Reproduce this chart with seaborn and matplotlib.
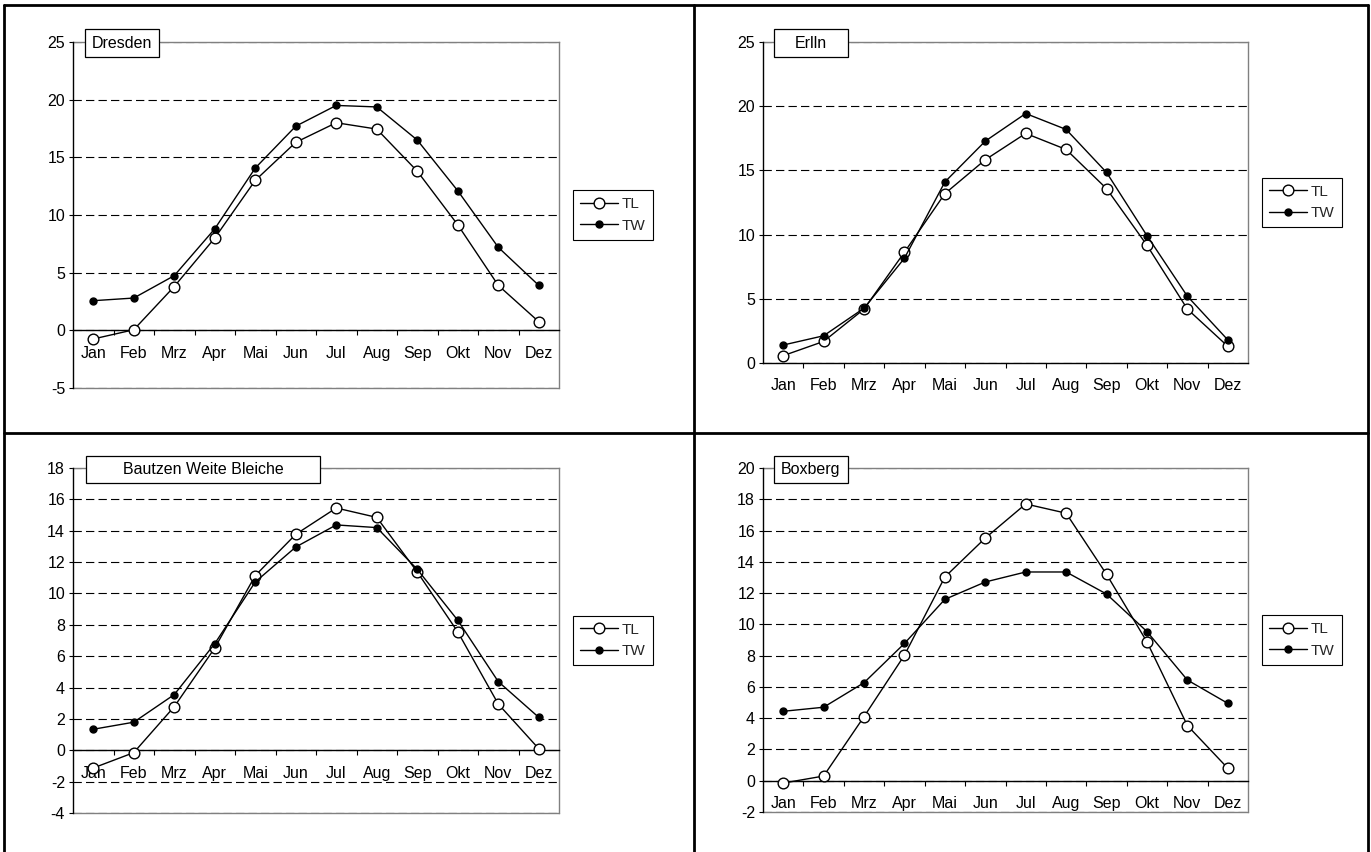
import numpy as np
import matplotlib
matplotlib.use('Agg')
import matplotlib.pyplot as plt
import seaborn as sns
from matplotlib.lines import Line2D
from matplotlib.patches import Rectangle
from matplotlib.ticker import FixedLocator

months = ['Jan', 'Feb', 'Mrz', 'Apr', 'Mai', 'Jun', 'Jul', 'Aug', 'Sep', 'Okt', 'Nov', 'Dez']

dresden_tl = [-0.75, 0.05, 3.8, 8.0, 13.0, 16.3, 18.0, 17.45, 13.8, 9.15, 3.9, 0.75]
dresden_tw = [2.57, 2.8, 4.74, 8.8, 14.07, 17.7, 19.5, 19.37, 16.5, 12.1, 7.2, 3.9]

erlln_tl = [0.57, 1.68, 4.2, 8.63, 13.19, 15.83, 17.88, 16.63, 13.58, 9.17, 4.2, 1.3]
erlln_tw = [1.4, 2.12, 4.27, 8.16, 14.1, 17.28, 19.43, 18.19, 14.84, 9.92, 5.2, 1.8]

bautzen_tl = [-1.13, -0.15, 2.78, 6.52, 11.14, 13.77, 15.45, 14.85, 11.37, 7.55, 2.95, 0.1]
bautzen_tw = [1.34, 1.79, 3.55, 6.8, 10.73, 12.96, 14.37, 14.2, 11.54, 8.29, 4.38, 2.1]

boxberg_tl = [-0.15, 0.3, 4.1, 8.03, 13.03, 15.52, 17.7, 17.11, 13.2, 8.88, 3.53, 0.8]
boxberg_tw = [4.44, 4.7, 6.27, 8.78, 11.6, 12.71, 13.35, 13.35, 11.94, 9.54, 6.44, 4.95]

series_labels = ['TL', 'TW']
station_names = ['Dresden', 'Erlln', 'Bautzen Weite Bleiche', 'Boxberg']
y_ranges = [(-5, 25, 5), (0, 25, 5), (-4, 18, 2), (-2, 20, 2)]

sns.set_theme(style='white')
plt.rcParams['font.family'] = ['Liberation Sans', 'DejaVu Sans']
plt.rcParams['lines.scale_dashes'] = False
plt.rcParams['axes.unicode_minus'] = False

W, H = 1371, 852
fig = plt.figure(figsize=(W / 100, H / 100), dpi=100)


def fx(x):
    return x / W


def fy(y):
    return 1 - y / H


# panel layout in pixels: (left, top, right, bottom) of the plot area, and title box
layouts = [
    dict(plot=(73, 42, 559, 388), title=(85, 29, 159, 57)),
    dict(plot=(763, 42, 1248, 363), title=(774, 29, 848, 57)),
    dict(plot=(73, 468, 559, 813), title=(86, 456, 320, 483)),
    dict(plot=(763, 468, 1248, 812), title=(774, 456, 848, 483)),
]
data = [(dresden_tl, dresden_tw), (erlln_tl, erlln_tw),
        (bautzen_tl, bautzen_tw), (boxberg_tl, boxberg_tw)]

FS = 11.5
for name, (tl, tw), (y0, y1, step), lay in zip(station_names, data, y_ranges, layouts):
    l, t, r, b = lay['plot']
    ax = fig.add_axes([fx(l), fy(b), fx(r - l), (b - t) / H])
    xs = np.arange(len(months))
    sns.lineplot(x=xs, y=tl, ax=ax, sort=False, color='black', lw=1,
                 marker='o', markersize=7.7, markerfacecolor='white',
                 markeredgecolor='black', markeredgewidth=1, label=series_labels[0],
                 zorder=5)
    sns.lineplot(x=xs, y=tw, ax=ax, sort=False, color='black', lw=1,
                 marker='o', markersize=5, markerfacecolor='black',
                 markeredgecolor='black', markeredgewidth=1, label=series_labels[1],
                 zorder=6)
    ax.set_xlim(-0.5, 11.5)
    ax.set_ylim(y0, y1)
    ax.set_yticks(np.arange(y0, y1 + 0.01, step))
    ax.set_xticks(xs)
    ax.set_xticklabels(months)
    ax.xaxis.set_minor_locator(FixedLocator(np.arange(0.5, 11.0, 1.0)))
    ax.set_xlabel('')
    ax.set_ylabel('')
    ax.grid(False)
    ax.yaxis.grid(True, which='major', color='black', lw=0.8,
                  linestyle=(0, (6, 3)), zorder=2)

    for s in ['top', 'right']:
        ax.spines[s].set_color('#808080')
        ax.spines[s].set_linewidth(1)
        ax.spines[s].set_zorder(1)
    ax.spines['left'].set_color('black')
    ax.spines['left'].set_linewidth(1)
    ax.spines['bottom'].set_color('black')
    ax.spines['bottom'].set_linewidth(1)
    ax.spines['bottom'].set_position(('data', 0))
    if y0 < 0:
        ax.plot([0, 1], [0, 0], transform=ax.transAxes, color='#808080',
                lw=1, clip_on=False, zorder=0.5)

    ax.tick_params(axis='y', which='major', left=True, length=3.2, width=0.8,
                   color='black', direction='out', pad=2.5, labelsize=FS,
                   labelcolor='black')
    ax.tick_params(axis='x', which='major', bottom=True, length=0, pad=11,
                   labelsize=FS, labelcolor='black')
    ax.tick_params(axis='x', which='minor', bottom=True, length=3.6, width=0.8,
                   color='black', direction='out')

    leg = ax.legend(loc='center left', bbox_to_anchor=(1 + 14 / (r - l), 0.5),
                    frameon=True, fancybox=False, edgecolor='black',
                    fontsize=FS - 0.5, handlelength=2.5, handletextpad=0.25,
                    borderpad=0.45, labelspacing=0.5, borderaxespad=0,
                    framealpha=1)
    leg.get_frame().set_linewidth(0.8)

    tl_, tt_, tr_, tb_ = lay['title']
    fig.add_artist(Rectangle((fx(tl_), fy(tb_)), fx(tr_ - tl_), (tb_ - tt_) / H,
                             transform=fig.transFigure, facecolor='white',
                             edgecolor='black', lw=0.9, zorder=10))
    fig.text(fx((tl_ + tr_) / 2), fy((tt_ + tb_) / 2), name, ha='center',
             va='center', fontsize=FS, color='black', zorder=11)

# frame lines separating the four panels
frame_lw = 2
for (x0, y0_, x1, y1_) in [(4, 5, 1368, 5), (4, 5, 4, 852), (1368, 5, 1368, 852),
                           (694, 5, 694, 852), (4, 433, 1368, 433)]:
    fig.add_artist(Line2D([fx(x0), fx(x1)], [fy(y0_), fy(y1_)],
                          transform=fig.transFigure, color='black', lw=frame_lw))

fig.savefig('out.png', dpi=100, facecolor='white')
